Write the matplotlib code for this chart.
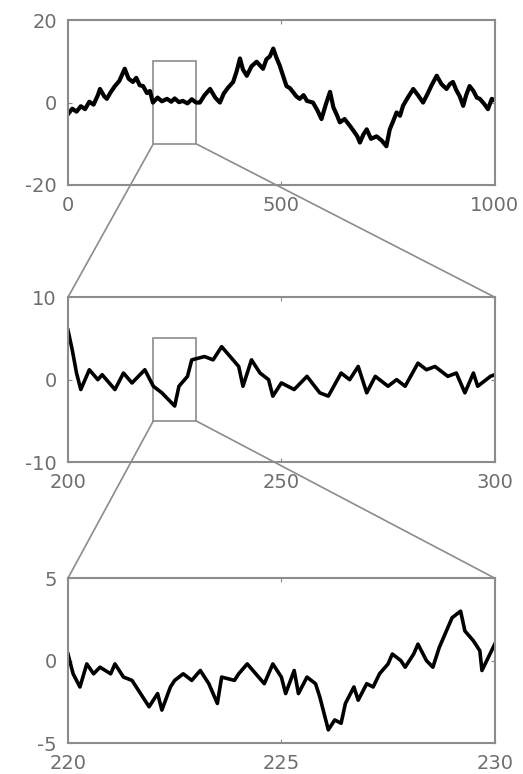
import matplotlib
matplotlib.use("Agg")
import matplotlib.pyplot as plt
from matplotlib.patches import Rectangle, ConnectionPatch

plt.rcParams["axes.unicode_minus"] = False

# panel 1: full walk, t = 0..1000
t1 = [0, 10, 20, 30, 40, 50, 60, 70, 75, 85, 91, 100, 110, 120, 133, 142, 152, 160,
      168, 176, 185, 192, 199, 210, 220, 232, 242, 250, 260, 269, 280, 290, 300, 309,
      320, 333, 345, 356, 365, 375, 387, 395, 403, 410, 419, 430, 442, 450, 457, 465,
      473, 481, 488, 496, 504, 512, 520, 527, 535, 543, 552, 560, 574, 584, 594, 604,
      614, 622, 630, 637, 648, 661, 670, 678, 684, 692, 700, 710, 723, 735, 746, 754,
      762, 770, 778, 785, 795, 809, 820, 832, 842, 852, 864, 875, 887, 895, 902, 910,
      918, 926, 933, 941, 950, 958, 965, 975, 984, 993, 1000]
v1 = [-2.8, -1.5, -2.2, -0.9, -1.6, 0.2, -0.5, 1.8, 3.3, 1.5, 0.9, 2.5, 4.0, 5.2, 8.2,
      5.8, 5.0, 6.0, 4.2, 4.0, 2.3, 2.8, 0.0, 1.2, 0.3, 0.9, 0.2, 1.0, 0.1, 0.4, -0.2,
      0.8, 0.0, 0.0, 1.8, 3.3, 1.2, 0.0, 2.2, 3.6, 5.0, 7.5, 10.7, 8.0, 6.5, 8.8, 9.9,
      9.0, 8.2, 10.5, 11.2, 13.1, 11.0, 9.0, 6.5, 4.0, 3.5, 2.6, 1.5, 0.9, 1.8, 0.4,
      0.0, -1.8, -4.0, -0.5, 2.6, -1.2, -3.0, -4.8, -4.0, -5.7, -7.0, -8.2, -9.7, -7.8,
      -6.5, -8.8, -8.2, -9.2, -10.6, -6.5, -4.5, -2.4, -3.2, -0.8, 1.0, 3.3, 1.8, 0.0,
      2.0, 4.2, 6.5, 4.5, 3.3, 4.5, 5.0, 3.0, 1.5, -0.8, 1.8, 4.0, 2.8, 1.2, 0.9, -0.3,
      -1.6, 0.9, 0.5]

# panel 2: zoom on t = 200..300
t2 = [200, 201, 202, 203, 205, 207, 208, 211, 213, 215, 218, 220, 222, 225, 226, 228,
      229, 232, 234, 236, 238, 240, 241, 243, 245, 247, 248, 250, 253, 256, 259, 261,
      264, 266, 268, 270, 272, 275, 277, 279, 282, 284, 286, 289, 291, 293, 295, 296,
      299, 300]
v2 = [6.0, 3.6, 0.8, -1.2, 1.2, 0.0, 0.6, -1.2, 0.8, -0.4, 1.2, -0.8, -1.6, -3.2, -0.8,
      0.4, 2.4, 2.8, 2.4, 4.0, 2.8, 1.6, -0.8, 2.4, 0.8, 0.0, -2.0, -0.4, -1.2, 0.4,
      -1.6, -2.0, 0.8, 0.0, 1.6, -1.6, 0.4, -0.8, 0.0, -0.8, 2.0, 1.2, 1.6, 0.4, 0.8,
      -1.6, 0.8, -0.8, 0.4, 0.6]

# panel 3: zoom on t = 220..230
t3 = [220.0, 220.12, 220.28, 220.44, 220.6, 220.75, 221.0, 221.1, 221.3, 221.5, 221.7,
      221.9, 222.1, 222.2, 222.4, 222.5, 222.7, 222.9, 223.1, 223.3, 223.5, 223.6,
      223.9, 224.0, 224.2, 224.4, 224.6, 224.8, 225.0, 225.1, 225.3, 225.4, 225.6,
      225.8, 225.9, 226.0, 226.1, 226.25, 226.4, 226.5, 226.7, 226.8, 227.0, 227.15,
      227.3, 227.5, 227.6, 227.8, 227.9, 228.1, 228.2, 228.4, 228.55, 228.7, 228.9,
      229.0, 229.2, 229.3, 229.5, 229.65, 229.7, 229.85, 230.0]
v3 = [0.4, -0.8, -1.6, -0.2, -0.8, -0.4, -0.8, -0.2, -1.0, -1.2, -2.0, -2.8, -2.0,
      -3.0, -1.6, -1.2, -0.8, -1.2, -0.6, -1.4, -2.6, -1.0, -1.2, -0.8, -0.2, -0.8,
      -1.4, -0.2, -1.0, -2.0, -0.6, -2.0, -1.0, -1.4, -2.2, -3.2, -4.2, -3.6, -3.8,
      -2.6, -1.6, -2.4, -1.4, -1.6, -0.8, -0.2, 0.4, 0.0, -0.4, 0.4, 1.0, 0.0, -0.4,
      0.8, 2.0, 2.6, 3.0, 1.8, 1.2, 0.6, -0.6, 0.2, 1.0]

xlims = [(0, 1000), (200, 300), (220, 230)]
ylims = [(-20, 20), (-10, 10), (-5, 5)]
xticks = [[0, 500, 1000], [200, 250, 300], [220, 225, 230]]
yticks = [[-20, 0, 20], [-10, 0, 10], [-5, 0, 5]]

gray = "#8c8c8c"
fig = plt.figure(figsize=(5.23, 7.74), dpi=100)
bottoms = [0.761, 0.403, 0.040]
widths = [3.0, 2.6, 2.6]
axes = []
for i, (t, v) in enumerate([(t1, v1), (t2, v2), (t3, v3)]):
    ax = fig.add_axes([0.130, bottoms[i], 0.816, 0.213])
    ax.plot(t, v, color="black", lw=widths[i])
    ax.set_xlim(*xlims[i])
    ax.set_ylim(*ylims[i])
    ax.set_xticks(xticks[i])
    ax.set_yticks(yticks[i])
    ax.tick_params(direction="in", length=3, colors=gray, labelcolor="#6e6e6e",
                   labelsize=14, top=True, right=True, pad=8)
    for s in ax.spines.values():
        s.set_color(gray)
        s.set_linewidth(1.5)
    axes.append(ax)

# zoom boxes and connector lines
for i in range(2):
    x0, x1 = xlims[i + 1]
    y0, y1 = ylims[i + 1]
    axes[i].add_patch(Rectangle((x0, y0), x1 - x0, y1 - y0, fill=False,
                                edgecolor=gray, lw=1.2))
    for xa, xb in [(x0, 0), (x1, 1)]:
        con = ConnectionPatch(xyA=(xa, y0), coordsA="data", axesA=axes[i],
                              xyB=(xb, 1), coordsB="axes fraction", axesB=axes[i + 1],
                              color=gray, lw=1.2)
        fig.add_artist(con)

plt.savefig("out.png", dpi=100)
